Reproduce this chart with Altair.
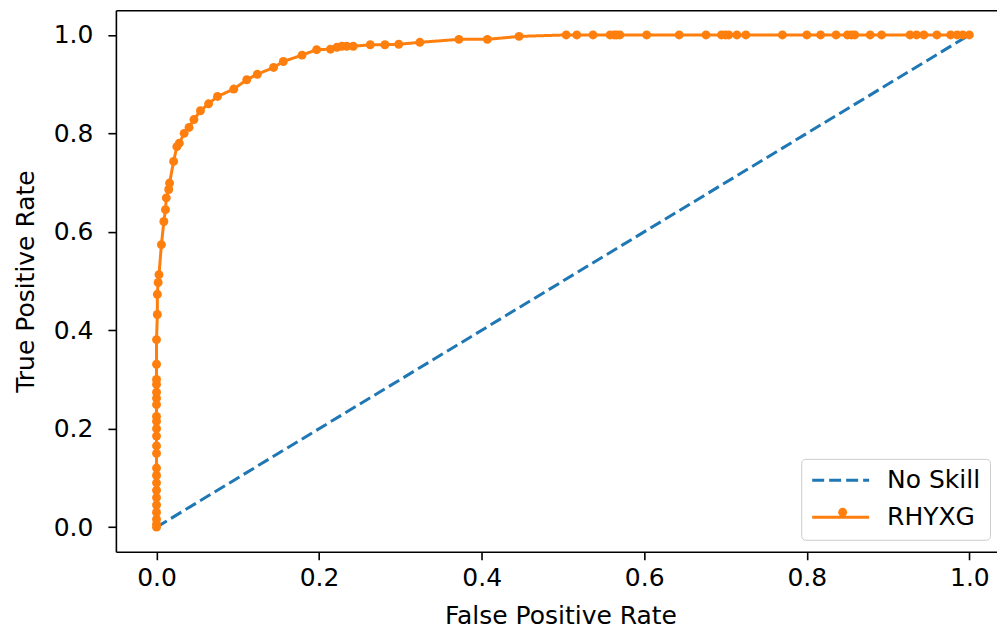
import altair as alt
import pandas as pd

# ROC curve points
fpr = [0.000, 0.000, 0.000, 0.000, 0.000, 0.000, 0.000, 0.000, 0.000, 0.000,
       0.000, 0.000, 0.000, 0.000, 0.000, 0.000, 0.000, 0.000, 0.000, 0.000,
       0.000, 0.000, 0.000, 0.001, 0.001, 0.002, 0.003, 0.006, 0.009, 0.011,
       0.012, 0.015, 0.016, 0.021, 0.025, 0.028, 0.034, 0.040, 0.046, 0.054,
       0.064, 0.075, 0.095, 0.111, 0.124, 0.144, 0.156, 0.179, 0.197, 0.214,
       0.222, 0.228, 0.234, 0.242, 0.263, 0.281, 0.298, 0.324, 0.372, 0.407,
       0.446, 0.504, 0.517, 0.537, 0.558, 0.563, 0.566, 0.570, 0.603, 0.643,
       0.676, 0.695, 0.700, 0.704, 0.714, 0.725, 0.770, 0.800, 0.817, 0.836,
       0.850, 0.855, 0.859, 0.878, 0.892, 0.927, 0.935, 0.944, 0.960, 0.977,
       0.985, 0.992, 1.000]
tpr = [0.000, 0.006, 0.016, 0.030, 0.045, 0.060, 0.075, 0.090, 0.105, 0.120,
       0.150, 0.165, 0.185, 0.200, 0.215, 0.225, 0.249, 0.262, 0.274, 0.290,
       0.300, 0.331, 0.381, 0.432, 0.473, 0.497, 0.513, 0.574, 0.621, 0.645,
       0.669, 0.686, 0.699, 0.743, 0.773, 0.780, 0.800, 0.812, 0.828, 0.846,
       0.860, 0.875, 0.890, 0.909, 0.920, 0.934, 0.946, 0.959, 0.970, 0.971,
       0.975, 0.977, 0.977, 0.977, 0.980, 0.980, 0.981, 0.985, 0.991, 0.991,
       0.997, 1.000, 1.000, 1.000, 1.000, 1.000, 1.000, 1.000, 1.000, 1.000,
       1.000, 1.000, 1.000, 1.000, 1.000, 1.000, 1.000, 1.000, 1.000, 1.000,
       1.000, 1.000, 1.000, 1.000, 1.000, 1.000, 1.000, 1.000, 1.000, 1.000,
       1.000, 1.000, 1.000]

ns_fpr = [0.0, 1.0]
ns_tpr = [0.0, 1.0]

series_names = ["No Skill", "RHYXG"]
series_colors = ["#1f77b4", "#ff7f0e"]
tick_values = [0.0, 0.2, 0.4, 0.6, 0.8, 1.0]

df_ns = pd.DataFrame({"fpr": ns_fpr, "tpr": ns_tpr, "series": "No Skill",
                      "order": list(range(len(ns_fpr)))})
df_roc = pd.DataFrame({"fpr": fpr, "tpr": tpr, "series": "RHYXG",
                       "order": list(range(len(fpr)))})
df_lines = pd.concat([df_ns, df_roc], ignore_index=True)

FONT = "DejaVu Sans"
FS = 25

xscale = alt.Scale(domain=[-0.05, 1.034], nice=False, zero=False)
yscale = alt.Scale(domain=[-0.05, 1.05], nice=False, zero=False)

line_path = "M-3,0L3,0"

line_legend = alt.Legend(
    title=None, orient="none", legendX=686, legendY=449,
    symbolType=line_path, symbolSize=361, symbolStrokeWidth=3,
    symbolOffset=18,
    labelFont=FONT, labelFontSize=FS, labelColor="#000000",
    labelOffset=34, rowPadding=11, padding=9,
    fillColor="rgba(255,255,255,0.8)", strokeColor="#cccccc",
    cornerRadius=4,
)

dot_legend = alt.Legend(
    title=None, orient="none", legendX=723, legendY=498,
    symbolType="circle", symbolSize=80, symbolStrokeWidth=0,
    labelColor="rgba(0,0,0,0)", labelFontSize=1, padding=0,
    symbolOpacity=1,
)

lines = alt.Chart(df_lines).mark_line(strokeWidth=3).encode(
    x=alt.X("fpr:Q", scale=xscale,
            axis=alt.Axis(values=tick_values, format=".1f", title="False Positive Rate",
                          grid=False, orient="bottom", titleX=445,
                          labelPadding=6, titlePadding=13)),
    y=alt.Y("tpr:Q", scale=yscale,
            axis=alt.Axis(values=tick_values, format=".1f", title="True Positive Rate",
                          grid=False, labelPadding=15, titlePadding=15)),
    color=alt.Color("series:N", scale=alt.Scale(domain=series_names, range=series_colors),
                    legend=line_legend),
    strokeDash=alt.StrokeDash("series:N",
                              scale=alt.Scale(domain=series_names, range=[[12, 5], [1, 0]]),
                              legend=line_legend),
    order="order:Q",
    detail="series:N",
)

points = alt.Chart(df_roc).mark_circle(size=80, opacity=1, strokeWidth=0).encode(
    x=alt.X("fpr:Q", scale=xscale,
            axis=alt.Axis(orient="top", labels=False, ticks=False, title=None,
                          grid=False, domain=True)),
    y=alt.Y("tpr:Q", scale=yscale),
    fill=alt.Fill("series:N", scale=alt.Scale(domain=["RHYXG"], range=["#ff7f0e"]),
                  legend=dot_legend),
)

chart = alt.layer(lines, points).resolve_axis(x="independent").resolve_legend(
    fill="independent").properties(
    width=882, height=542,
    autosize="none",
    padding={"left": 108, "top": 2, "right": 0, "bottom": 80},
).configure_view(stroke=None).configure_axis(
    domainColor="#000000", domainWidth=1.6,
    tickColor="#000000", tickWidth=1.6, tickSize=8,
    labelFont=FONT, labelFontSize=FS, labelColor="#000000",
    titleFont=FONT, titleFontSize=FS, titleColor="#000000", titleFontWeight="normal",
)

chart.save("out.html", embed_options={"renderer": "svg", "actions": False})
